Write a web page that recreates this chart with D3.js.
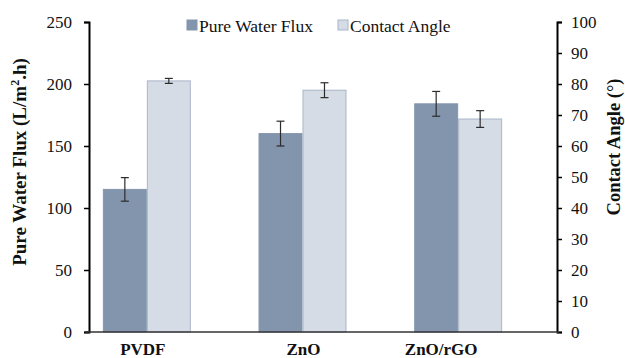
<!DOCTYPE html>
<html>
<head>
<meta charset="utf-8">
<script src="https://cdn.jsdelivr.net/npm/d3@7"></script>
<style>
  html, body { margin: 0; padding: 0; background: #fff; }
  svg { display: block; }
  svg text { font-family: "Liberation Serif", "Times New Roman", Times, "DejaVu Serif", serif !important; }
</style>
</head>
<body>
<svg id="chart" width="625" height="358"></svg>
<script>
// Membrane samples
const categories = ["PVDF", "ZnO", "ZnO/rGO"];
const seriesNames = ["Pure Water Flux", "Contact Angle"];

// Pure water flux (L/m².h) and its error
const fluxValues = [115, 160, 184];
const fluxErrors = [9.5, 10, 10];

// Contact angle (°) and its error
const angleValues = [81, 78, 68.7];
const angleErrors = [0.8, 2.4, 2.7];

// Axis ticks
const fluxTicks = [0, 50, 100, 150, 200, 250];
const angleTicks = [0, 10, 20, 30, 40, 50, 60, 70, 80, 90, 100];

const colors = { "Pure Water Flux": "#8395ad", "Contact Angle": "#d6dce6" };
const strokes = { "Pure Water Flux": "#8395ad", "Contact Angle": "#a9b5c8" };

const svg = d3.select("#chart");
const plot = { left: 89, right: 557, top: 22, bottom: 332 };

const yFlux = d3.scaleLinear().domain([0, 250]).range([plot.bottom, plot.top]);
const yAngle = d3.scaleLinear().domain([0, 100]).range([plot.bottom, plot.top]);

const x0 = d3.scaleBand().domain(categories).range([69, 536]).padding(0);
const x1 = d3.scaleBand().domain(seriesNames).range([0, x0.bandwidth()])
  .paddingInner(0).paddingOuter(0.77);

const rows = categories.map((c, i) => ({
  cat: c,
  bars: [
    { s: "Pure Water Flux", v: fluxValues[i], e: fluxErrors[i], y: yFlux },
    { s: "Contact Angle", v: angleValues[i], e: angleErrors[i], y: yAngle }
  ]
}));

const groups = svg.append("g").selectAll("g").data(rows).join("g")
  .attr("transform", d => `translate(${x0(d.cat)},0)`);

groups.selectAll("rect").data(d => d.bars).join("rect")
  .attr("x", d => x1(d.s) + 0.5)
  .attr("y", d => d.y(d.v))
  .attr("width", x1.bandwidth() - 1)
  .attr("height", d => d.y(0) - d.y(d.v))
  .attr("fill", d => colors[d.s])
  .attr("stroke", d => strokes[d.s])
  .attr("stroke-width", 1);

// Error bars
const eb = groups.selectAll("g.err").data(d => d.bars).join("g").attr("class", "err")
  .attr("stroke", "#2b2b2b").attr("stroke-width", 1.2);
eb.append("line")
  .attr("x1", d => x1(d.s) + x1.bandwidth() / 2)
  .attr("x2", d => x1(d.s) + x1.bandwidth() / 2)
  .attr("y1", d => d.y(d.v + d.e)).attr("y2", d => d.y(d.v - d.e));
[1, -1].forEach(sign => {
  eb.append("line")
    .attr("x1", d => x1(d.s) + x1.bandwidth() / 2 - 4)
    .attr("x2", d => x1(d.s) + x1.bandwidth() / 2 + 4)
    .attr("y1", d => d.y(d.v + sign * d.e))
    .attr("y2", d => d.y(d.v + sign * d.e));
});

// Axes
const leftAxis = svg.append("g").attr("transform", `translate(${plot.left},0)`)
  .call(d3.axisLeft(yFlux).tickValues(fluxTicks).tickSizeOuter(0).tickSize(5).tickPadding(12));
const rightAxis = svg.append("g").attr("transform", `translate(${plot.right},0)`)
  .call(d3.axisRight(yAngle).tickValues(angleTicks).tickSizeOuter(0).tickSize(5).tickPadding(9));
[leftAxis, rightAxis].forEach(a => {
  a.attr("font-family", null);
  a.select(".domain").attr("stroke", "#000").attr("stroke-width", 2);
  a.selectAll(".tick line").attr("stroke", "#000").attr("stroke-width", 1.5);
  a.selectAll(".tick text").attr("font-size", 17).attr("fill", "#111");
});

// Baseline
svg.append("line")
  .attr("x1", plot.left - 4).attr("x2", plot.right + 2)
  .attr("y1", plot.bottom).attr("y2", plot.bottom)
  .attr("stroke", "#333").attr("stroke-width", 1.5);

// Category labels (hand-nudged under each group)
const labelShift = { "PVDF": -4, "ZnO": 1, "ZnO/rGO": -17 };
svg.append("g").selectAll("text").data(categories).join("text")
  .attr("x", d => x0(d) + x0.bandwidth() / 2 + labelShift[d])
  .attr("y", 354.5)
  .attr("text-anchor", "middle")
  .attr("font-weight", "bold").attr("font-size", 17)
  .attr("fill", "#111")
  .text(d => d);

// Axis titles
svg.append("text")
  .attr("transform", `translate(26,162) rotate(-90)`)
  .attr("text-anchor", "middle").attr("font-weight", "bold").attr("font-size", 19)
  .attr("fill", "#111")
  .html('Pure Water Flux (L/m<tspan baseline-shift="super" font-size="12">2</tspan>.h)');
svg.append("text")
  .attr("transform", `translate(620,147) rotate(-90)`)
  .attr("text-anchor", "middle").attr("font-weight", "bold").attr("font-size", 18.5)
  .attr("fill", "#111")
  .text("Contact Angle (°)");

// Legend
const legend = svg.append("g").attr("transform", "translate(187,20)");
const legendX = [0, 151];
seriesNames.forEach((s, i) => {
  const g = legend.append("g").attr("transform", `translate(${legendX[i]},0)`);
  g.append("rect").attr("width", 10).attr("height", 10)
    .attr("fill", colors[s]).attr("stroke", strokes[s]);
  g.append("text").attr("x", 12).attr("y", 11.5)
    .attr("font-size", 17.5).attr("fill", "#111").text(s);
});
</script>
</body>
</html>
